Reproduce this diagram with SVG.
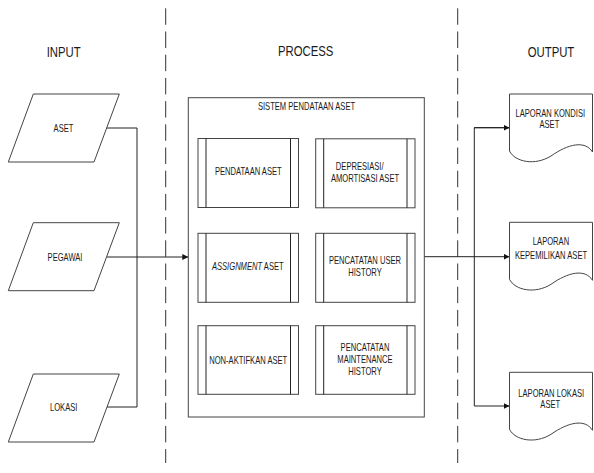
<svg xmlns="http://www.w3.org/2000/svg" width="594" height="473" viewBox="0 0 594 473">
<defs>
<style>
text{font-family:"Liberation Sans",Arial,sans-serif;fill:#1a1a1a;text-anchor:middle}
.h{font-size:14px}
.s{font-size:10px}
.shape{fill:#fff;stroke:#444;stroke-width:1}
.ln{fill:none;stroke:#222;stroke-width:1}
.dash{fill:none;stroke:#333;stroke-width:1;stroke-dasharray:16.5 6.7}
</style>
<marker id="arr" markerUnits="userSpaceOnUse" markerWidth="7" markerHeight="7" refX="6" refY="3" orient="auto">
<path d="M0,0 L6,3 L0,6 Z" fill="#111"/>
</marker>
</defs>
<rect width="594" height="473" fill="#fff"/>
<g id="lanes">
<line class="dash" x1="165.7" y1="8.3" x2="165.7" y2="463"/>
<line class="dash" x1="457.7" y1="8.3" x2="457.7" y2="463"/>
<text class="h" transform="translate(63.7,57) scale(0.81,1)">INPUT</text>
<text class="h" transform="translate(305.7,56) scale(0.81,1)">PROCESS</text>
<text class="h" transform="translate(551,56.7) scale(0.81,1)">OUTPUT</text>
</g>
<g id="connectors">
<path class="ln" d="M106.5,128 H137 V407 H107"/>
<path class="ln" d="M107,257 H188.3" marker-end="url(#arr)"/>
<path class="ln" d="M424.3,256.7 H509.5" marker-end="url(#arr)"/>
<path class="ln" d="M509.5,127.7 H474.3 V406 H509.5" marker-end="url(#arr)"/>
<path class="ln" d="M474.3,127.7 H509.5" marker-end="url(#arr)"/>
</g>
<g id="in-aset">
<polygon class="shape" points="33.3,94 119.3,94 94,162 8.3,162"/>
<text class="s" transform="translate(63.5,131.6) scale(0.76,1)">ASET</text>
</g>
<g id="in-pegawai">
<polygon class="shape" points="33.3,222.7 119.3,222.7 94,290.7 8.3,290.7"/>
<text class="s" transform="translate(65,260.6) scale(0.76,1)">PEGAWAI</text>
</g>
<g id="in-lokasi">
<polygon class="shape" points="33.3,374 119.3,374 94,442 8.3,442"/>
<text class="s" transform="translate(63.7,410.9) scale(0.76,1)">LOKASI</text>
</g>
<g id="sistem">
<rect class="shape" x="188.3" y="97.7" width="236" height="319.3" stroke="#555"/>
<text class="s" transform="translate(306.5,109.6) scale(0.76,1)">SISTEM PENDATAAN ASET</text>
</g>
<g id="p-pendataan">
<rect class="shape" x="198" y="138.5" width="100.5" height="69"/>
<path class="ln" stroke="#444" d="M206,138.5 V207.5 M290.5,138.5 V207.5"/>
<text class="s" transform="translate(248.3,175.2) scale(0.76,1)">PENDATAAN ASET</text>
</g>
<g id="p-depresiasi">
<rect class="shape" x="315.7" y="138.8" width="99.3" height="69"/>
<path class="ln" stroke="#444" d="M323.7,138.8 V207.8 M407,138.8 V207.8"/>
<text class="s" transform="translate(365,170.2) scale(0.76,1)"><tspan x="-7">DEPRESIASI/</tspan><tspan x="0" dy="11.7">AMORTISASI ASET</tspan></text>
</g>
<g id="p-assignment">
<rect class="shape" x="198" y="233.3" width="100.5" height="69"/>
<path class="ln" stroke="#444" d="M206,233.3 V302.3 M290.5,233.3 V302.3"/>
<text class="s" transform="translate(247.8,270.2) scale(0.76,1)"><tspan font-style="italic">ASSIGNMENT</tspan> ASET</text>
</g>
<g id="p-user">
<rect class="shape" x="315.7" y="233.3" width="99.3" height="69"/>
<path class="ln" stroke="#444" d="M323.7,233.3 V302.3 M407,233.3 V302.3"/>
<text class="s" transform="translate(365,263.6) scale(0.76,1)"><tspan x="0">PENCATATAN USER</tspan><tspan x="0" dy="12.6">HISTORY</tspan></text>
</g>
<g id="p-nonaktif">
<rect class="shape" x="198" y="325.7" width="100.5" height="68.6"/>
<path class="ln" stroke="#444" d="M206,325.7 V394.3 M290.5,325.7 V394.3"/>
<text class="s" transform="translate(248.2,363.6) scale(0.76,1)">NON-AKTIFKAN ASET</text>
</g>
<g id="p-maintenance">
<rect class="shape" x="315.7" y="325.7" width="99.3" height="68.6"/>
<path class="ln" stroke="#444" d="M323.7,325.7 V394.3 M407,325.7 V394.3"/>
<text class="s" transform="translate(365,350.9) scale(0.76,1)"><tspan x="0">PENCATATAN</tspan><tspan x="0" dy="12.4">MAINTENANCE</tspan><tspan x="0" dy="11.7">HISTORY</tspan></text>
</g>
<g id="out-kondisi">
<path class="shape" d="M509.5,94 H592.5 V152 C585,140 568,144 551,156 C535,166 515,162 509.5,151 Z"/>
<text class="s" transform="translate(550.3,116.9) scale(0.76,1)"><tspan x="0">LAPORAN KONDISI</tspan><tspan x="-1.2" dy="11.5">ASET</tspan></text>
</g>
<g id="out-kepemilikan">
<path class="shape" d="M509.5,222.3 H592.5 V280.3 C585,268.3 568,272.3 551,284.3 C535,294.3 515,290.3 509.5,279.3 Z"/>
<text class="s" transform="translate(551,245.2) scale(0.76,1)"><tspan x="0">LAPORAN</tspan><tspan x="0" dy="13.4">KEPEMILIKAN ASET</tspan></text>
</g>
<g id="out-lokasi">
<path class="shape" d="M509.5,372.3 H592.5 V430.3 C585,418.3 568,422.3 551,434.3 C535,444.3 515,440.3 509.5,429.3 Z"/>
<text class="s" transform="translate(551.2,396.9) scale(0.76,1)"><tspan x="0">LAPORAN LOKASI</tspan><tspan x="-1.2" dy="11.3">ASET</tspan></text>
</g>
</svg>
